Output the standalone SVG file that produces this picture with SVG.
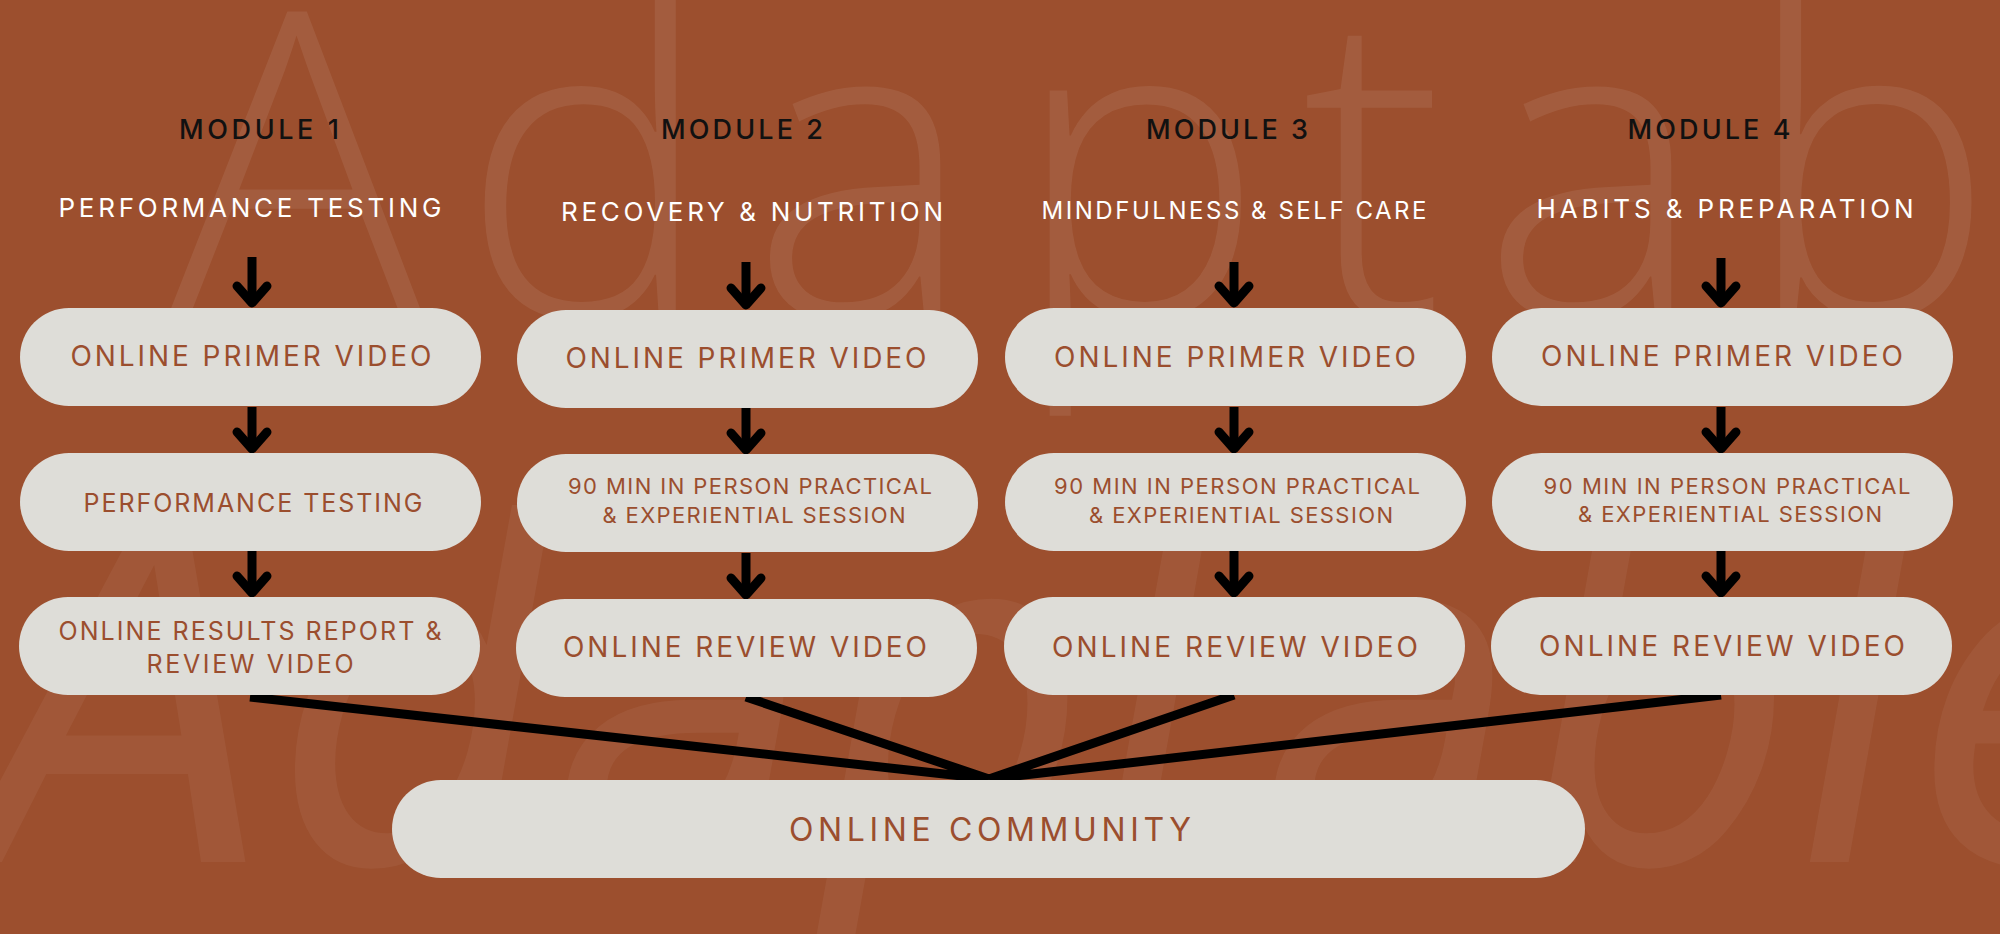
<svg xmlns="http://www.w3.org/2000/svg" width="2000" height="934" viewBox="0 0 2000 934">
<style>
.bg{fill:#9C4F2E}
.wm{fill:#FFFFFF;fill-opacity:0.08;font-family:"Open Sans","Noto Sans",sans-serif;font-weight:300;font-size:425px}
.wm2{fill:#FFFFFF;fill-opacity:0.05;font-family:"DejaVu Sans",sans-serif;font-style:oblique;font-size:470px}
.box{fill:#DEDDD8}
.mod{fill:#111111;font-family:Inter,"Noto Sans",sans-serif;font-size:27px;font-weight:500;text-anchor:middle}
.sub{fill:#FFFFFF;font-family:Inter,"Noto Sans",sans-serif;font-size:26px;font-weight:400;text-anchor:middle}
.sub.sm{font-size:24px}
.bt{fill:#9B4E2E;font-family:Inter,"Noto Sans",sans-serif;font-size:28px;font-weight:400;text-anchor:middle}
.bt.md{font-size:25px}
.bt.lg{font-size:32px}
.bt2{fill:#9B4E2E;font-family:Inter,"Noto Sans",sans-serif;font-size:22px;font-weight:400;text-anchor:middle}
.shaft{stroke:#000;stroke-width:9;fill:none}
.head{stroke:#000;stroke-width:9;fill:none;stroke-linecap:round;stroke-linejoin:round}
.link{stroke:#000;stroke-width:9;fill:none;stroke-linecap:butt}
</style>
<rect class="bg" x="0" y="0" width="2000" height="934"/>
<g id="watermark">
<text class="wm" x="168" y="316" textLength="1828" lengthAdjust="spacing">Adaptab</text>
<text class="wm2" x="-20" y="862" textLength="2200" lengthAdjust="spacingAndGlyphs">Adaptable</text>
</g>
<g id="headers">
<text class="mod" x="259" y="139" textLength="160" lengthAdjust="spacing">MODULE 1</text>
<text class="mod" x="742" y="139" textLength="162" lengthAdjust="spacing">MODULE 2</text>
<text class="mod" x="1227" y="139" textLength="162" lengthAdjust="spacing">MODULE 3</text>
<text class="mod" x="1709" y="139" textLength="163" lengthAdjust="spacing">MODULE 4</text>
<text class="sub" x="250" y="217" textLength="383" lengthAdjust="spacing">PERFORMANCE TESTING</text>
<text class="sub" x="752" y="221" textLength="382" lengthAdjust="spacing">RECOVERY &amp; NUTRITION</text>
<text class="sub sm" x="1234" y="219" textLength="385" lengthAdjust="spacing">MINDFULNESS &amp; SELF CARE</text>
<text class="sub" x="1725" y="218" textLength="377" lengthAdjust="spacing">HABITS &amp; PREPARATION</text>
</g>
<g id="connectors">
<path class="shaft" d="M252 257V303M252 407V449M252 551V593"/>
<path class="head" d="M237 286L252 303L267 286M237 432L252 449L267 432M237 576L252 593L267 576"/>
<path class="shaft" d="M746 262V305M746 408V450M746 553V595"/>
<path class="head" d="M731 288L746 305L761 288M731 433L746 450L761 433M731 578L746 595L761 578"/>
<path class="shaft" d="M1234 262V303M1234 407V449M1234 551V593"/>
<path class="head" d="M1219 286L1234 303L1249 286M1219 432L1234 449L1249 432M1219 576L1234 593L1249 576"/>
<path class="shaft" d="M1721 258V303M1721 407V449M1721 551V593"/>
<path class="head" d="M1706 286L1721 303L1736 286M1706 432L1721 449L1736 432M1706 576L1721 593L1736 576"/>
<path class="link" d="M250 697L989 779M746 697L989 779M1234 695L989 779M1721 695L989 779"/>
</g>
<g id="m1-primer"><rect class="box" x="20" y="308" width="461" height="98" rx="49"/><text class="bt" x="251" y="366" textLength="361" lengthAdjust="spacing">ONLINE PRIMER VIDEO</text></g>
<g id="m1-testing"><rect class="box" x="20" y="453" width="461" height="98" rx="49"/><text class="bt md" x="253" y="512" textLength="339" lengthAdjust="spacing">PERFORMANCE TESTING</text></g>
<g id="m1-results"><rect class="box" x="19" y="597" width="461" height="98" rx="49"/><text class="bt md" x="250" y="640" textLength="383" lengthAdjust="spacing">ONLINE RESULTS REPORT &amp;</text><text class="bt md" x="250" y="673" textLength="207" lengthAdjust="spacing">REVIEW VIDEO</text></g>
<g id="m2-primer"><rect class="box" x="517" y="310" width="461" height="98" rx="49"/><text class="bt" x="746" y="368" textLength="361" lengthAdjust="spacing">ONLINE PRIMER VIDEO</text></g>
<g id="m2-session"><rect class="box" x="517" y="454" width="461" height="98" rx="49"/><text class="bt2" x="750" y="494" textLength="364" lengthAdjust="spacing">90 MIN IN PERSON PRACTICAL</text><text class="bt2" x="754" y="523" textLength="303" lengthAdjust="spacing">&amp; EXPERIENTIAL SESSION</text></g>
<g id="m2-review"><rect class="box" x="516" y="599" width="461" height="98" rx="49"/><text class="bt" x="745" y="657" textLength="364" lengthAdjust="spacing">ONLINE REVIEW VIDEO</text></g>
<g id="m3-primer"><rect class="box" x="1005" y="308" width="461" height="98" rx="49"/><text class="bt" x="1235" y="367" textLength="362" lengthAdjust="spacing">ONLINE PRIMER VIDEO</text></g>
<g id="m3-session"><rect class="box" x="1005" y="453" width="461" height="98" rx="49"/><text class="bt2" x="1237" y="494" textLength="366" lengthAdjust="spacing">90 MIN IN PERSON PRACTICAL</text><text class="bt2" x="1241" y="523" textLength="304" lengthAdjust="spacing">&amp; EXPERIENTIAL SESSION</text></g>
<g id="m3-review"><rect class="box" x="1004" y="597" width="461" height="98" rx="49"/><text class="bt" x="1235" y="657" textLength="366" lengthAdjust="spacing">ONLINE REVIEW VIDEO</text></g>
<g id="m4-primer"><rect class="box" x="1492" y="308" width="461" height="98" rx="49"/><text class="bt" x="1722" y="366" textLength="362" lengthAdjust="spacing">ONLINE PRIMER VIDEO</text></g>
<g id="m4-session"><rect class="box" x="1492" y="453" width="461" height="98" rx="49"/><text class="bt2" x="1727" y="494" textLength="367" lengthAdjust="spacing">90 MIN IN PERSON PRACTICAL</text><text class="bt2" x="1730" y="522" textLength="304" lengthAdjust="spacing">&amp; EXPERIENTIAL SESSION</text></g>
<g id="m4-review"><rect class="box" x="1491" y="597" width="461" height="98" rx="49"/><text class="bt" x="1722" y="656" textLength="366" lengthAdjust="spacing">ONLINE REVIEW VIDEO</text></g>
<g id="community"><rect class="box" x="392" y="780" width="1193" height="98" rx="49"/><text class="bt lg" x="990" y="841" textLength="402" lengthAdjust="spacing">ONLINE COMMUNITY</text></g>
</svg>
